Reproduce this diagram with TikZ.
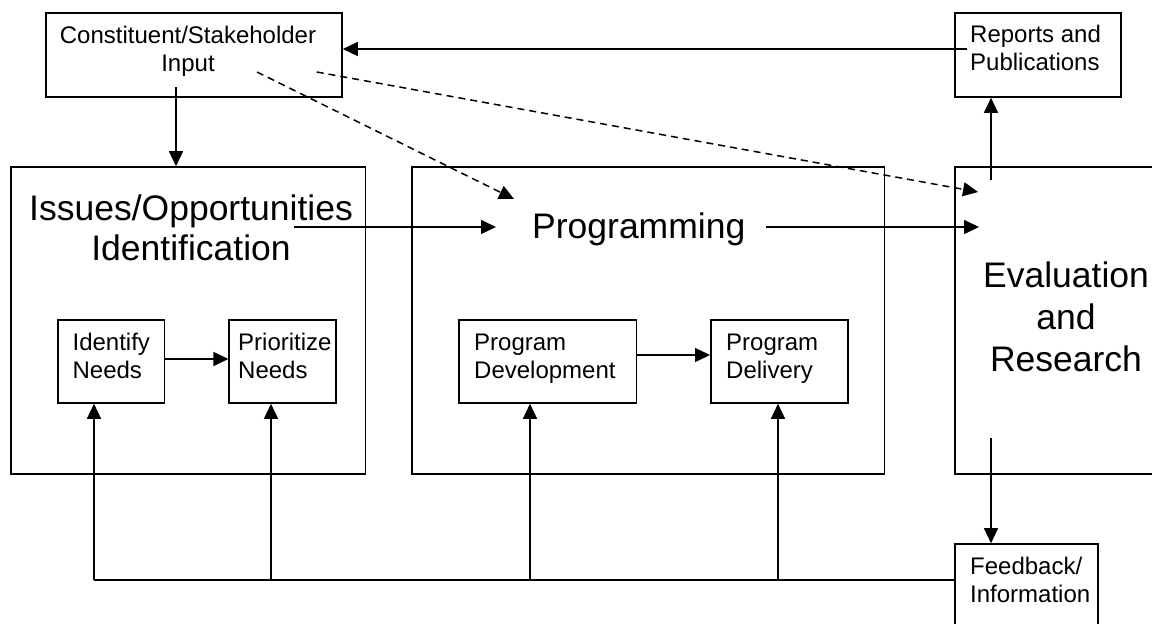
\documentclass[tikz,border=0pt]{standalone}
\usepackage{fontspec}
\setmainfont{Liberation Sans}
\usetikzlibrary{arrows.meta}
\tikzset{
  box/.style={draw, line width=1.6pt, inner sep=0pt, rectangle},
  arr/.style={line width=1.4pt, -{Triangle[length=15pt,width=14pt]}},
  darr/.style={arr, line width=1.5pt, dash pattern=on 7pt off 5pt},
  plain/.style={line width=1.4pt},
  small/.style={inner sep=0pt, font=\fontsize{24}{28}\selectfont},
  large/.style={inner sep=0pt, font=\fontsize{35.5}{40}\selectfont},
}
\begin{document}
\begin{tikzpicture}[x=1pt,y=-1pt]
\useasboundingbox (0,0) rectangle (1152,624);
\clip (0,0) rectangle (1152,624);
\fill[white] (0,0) rectangle (1152,624);
% boxes
\node[box, minimum width=296pt, minimum height=84pt] (cs) at (194,55) {};
\node[box, minimum width=166pt, minimum height=84pt] (rp) at (1038,55) {};
\node[box, minimum width=354.5pt, minimum height=307pt] (iss) at (188.25,320.5) {};
\node[box, minimum width=472.6pt, minimum height=307pt] (prog) at (648.3,320.5) {};
\node[box, minimum width=222pt, minimum height=307pt] (eval) at (1066,320.5) {};
\node[box, minimum width=106.9pt, minimum height=83pt] (idn) at (111.15,361.5) {};
\node[box, minimum width=106.6pt, minimum height=83pt] (prn) at (282.5,361.5) {};
\node[box, minimum width=177.4pt, minimum height=83pt] (pdev) at (547.9,361.5) {};
\node[box, minimum width=137.4pt, minimum height=83pt] (pdel) at (779.5,361.5) {};
\node[box, minimum width=142.7pt, minimum height=106pt] (fb) at (1026.35,597) {};
% texts (base anchor = baseline of last line)
\node[small, anchor=base, align=center] (cst) at (188,71) {Constituent/Stakeholder\\Input};
\node[small, anchor=base west, align=left] (rpt) at (970,70) {Reports and\\Publications};
\node[large, anchor=base, align=center] (isst) at (191,260) {Issues/Opportunities\\Identification};
\node[large, anchor=base west] (progt) at (532,238) {Programming};
\node[large, anchor=base, align=center, font=\fontsize{35.5}{42}\selectfont] (evalt) at (1066,371) {Evaluation\\and\\Research};
\node[small, anchor=base west, align=left] (idnt) at (72.4,378) {Identify\\Needs};
\node[small, anchor=base west, align=left] (prnt) at (238,378) {Prioritize\\Needs};
\node[small, anchor=base west, align=left] (pdevt) at (474,378) {Program\\Development};
\node[small, anchor=base west, align=left] (pdelt) at (726,378) {Program\\Delivery};
\node[small, anchor=base west, align=left] (fbt) at (970,602) {Feedback/\\Information};
% connector end points
\coordinate (rpin) at (967,49);
\coordinate (csout) at (176,87);
\coordinate (d1s) at (257,72);
\coordinate (d1e) at (514,199);
\coordinate (d2s) at (316.7,72);
\coordinate (d2e) at (978,192);
\coordinate (issout) at (294,227);
\coordinate (progin) at (496,227);
\coordinate (progout) at (766,227);
\coordinate (evalin) at (979,227);
\coordinate (evalup) at (991,180);
\coordinate (evaldown) at (991,438);
\coordinate (j1) at (94,580);
\coordinate (j2) at (271,580);
\coordinate (j3) at (530,580);
\coordinate (j4) at (778,580);
% connectors
\draw[arr] (rpin) -- (rpin -| cs.east);
\draw[arr] (csout) -- (csout |- iss.north);
\draw[darr] (d1s) -- (d1e);
\draw[darr] (d2s) -- (d2e);
\draw[arr] (issout) -- (progin);
\draw[arr] (progout) -- (evalin);
\draw[arr] (evalup) -- (evalup |- rp.south);
\draw[arr] (evaldown) -- (evaldown |- fb.north);
\draw[arr] (idn.east |- 0,359) -- (prn.west |- 0,359);
\draw[arr] (pdev.east |- 0,355) -- (pdel.west |- 0,355);
\draw[plain] (j1 -| fb.west) -- (j1);
\draw[arr] (j1) -- (j1 |- idn.south);
\draw[arr] (j2) -- (j2 |- prn.south);
\draw[arr] (j3) -- (j3 |- pdev.south);
\draw[arr] (j4) -- (j4 |- pdel.south);
\end{tikzpicture}
\end{document}
